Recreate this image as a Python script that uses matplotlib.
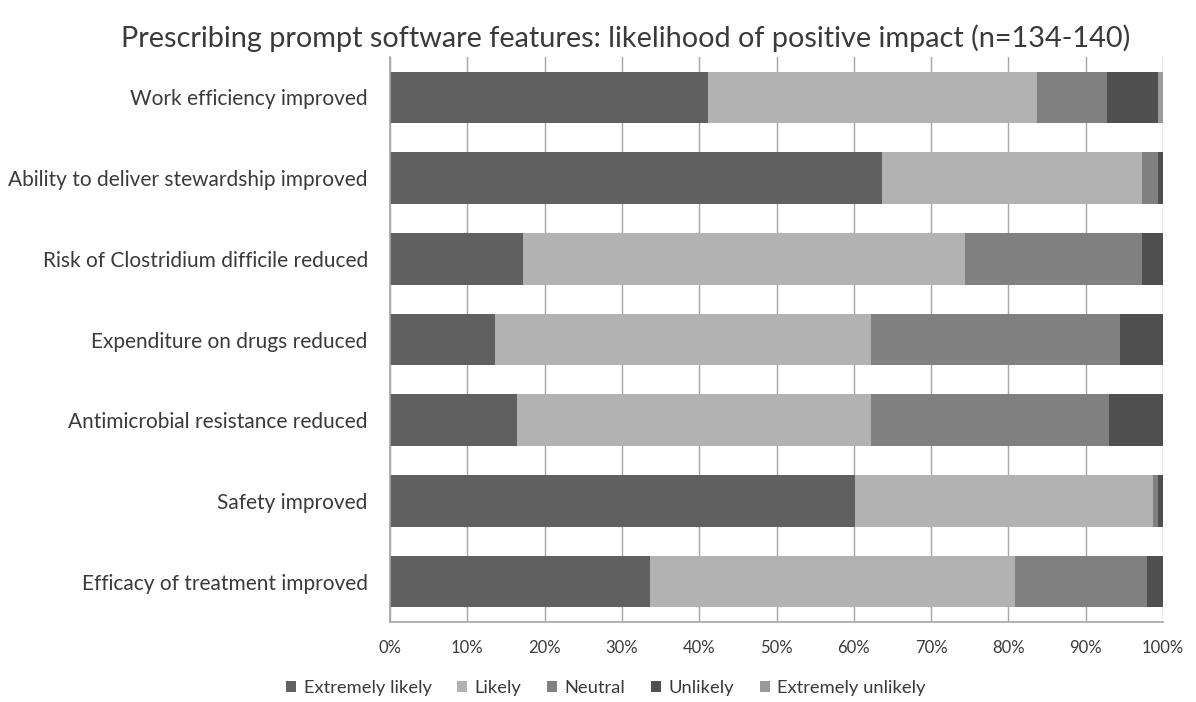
import numpy as np
import matplotlib
matplotlib.use('Agg')
import matplotlib.pyplot as plt
from matplotlib.ticker import PercentFormatter

plt.rcParams['font.family'] = ['Lato', 'DejaVu Sans']

# survey answers per feature, share of respondents in %
features = ['Work efficiency improved',
            'Ability to deliver stewardship improved',
            'Risk of Clostridium difficile reduced',
            'Expenditure on drugs reduced',
            'Antimicrobial resistance reduced',
            'Safety improved',
            'Efficacy of treatment improved']
extremely_likely = [41.1, 63.6, 17.2, 13.6, 16.4, 60.1, 33.6]
likely = [42.6, 33.7, 57.2, 48.6, 45.8, 38.6, 47.2]
neutral = [9.0, 2.1, 22.9, 32.3, 30.8, 0.7, 17.1]
unlikely = [6.7, 0.6, 2.7, 5.5, 7.0, 0.6, 2.1]
extremely_unlikely = [0.6, 0.0, 0.0, 0.0, 0.0, 0.0, 0.0]

answers = ['Extremely likely', 'Likely', 'Neutral', 'Unlikely', 'Extremely unlikely']
colours = ['#606060', '#b2b2b2', '#808080', '#4f4f4f', '#9a9a9a']
text_col = '#3a3a3a'

fig = plt.figure(figsize=(11.96, 7.02), dpi=100)
ax = fig.add_axes([390 / 1196, 1 - 622 / 702, 773 / 1196, 565 / 702])

ypos = np.arange(len(features))
left = np.zeros(len(features))
for vals, name, col in zip([extremely_likely, likely, neutral, unlikely, extremely_unlikely],
                           answers, colours):
    ax.barh(ypos, vals, left=left, height=0.64, color=col, label=name, zorder=2)
    left += np.array(vals)

ax.set_xlim(0, 100)
ax.set_ylim(len(features) - 0.5, -0.5)
ax.set_yticks(ypos)
ax.set_yticklabels(features, fontsize=15, color=text_col)
ax.set_xticks(np.arange(0, 101, 10))
ax.xaxis.set_major_formatter(PercentFormatter(decimals=0))
ax.tick_params(axis='x', length=0, pad=13, labelsize=12, labelcolor=text_col)
ax.tick_params(axis='y', length=0, pad=16)
ax.grid(axis='x', color='#a6a6a6', linewidth=1, zorder=1)
for s in ['top', 'right']:
    ax.spines[s].set_visible(False)
for s in ['left', 'bottom']:
    ax.spines[s].set_color('#a6a6a6')
    ax.spines[s].set_linewidth(1.2)

fig.text(626 / 1196, 1 - 38 / 702, 'Prescribing prompt software features: likelihood of positive impact (n=134-140)',
         ha='center', va='center', fontsize=20.8, color=text_col)

fig.legend(loc='center', bbox_to_anchor=(606 / 1196, 1 - 688 / 702), ncol=5, frameon=False,
           handlelength=0.55, handleheight=0.55, handletextpad=0.4, columnspacing=1.4,
           prop={'size': 13.2}, labelcolor=text_col)

fig.savefig('out.png', dpi=100, facecolor='white')
